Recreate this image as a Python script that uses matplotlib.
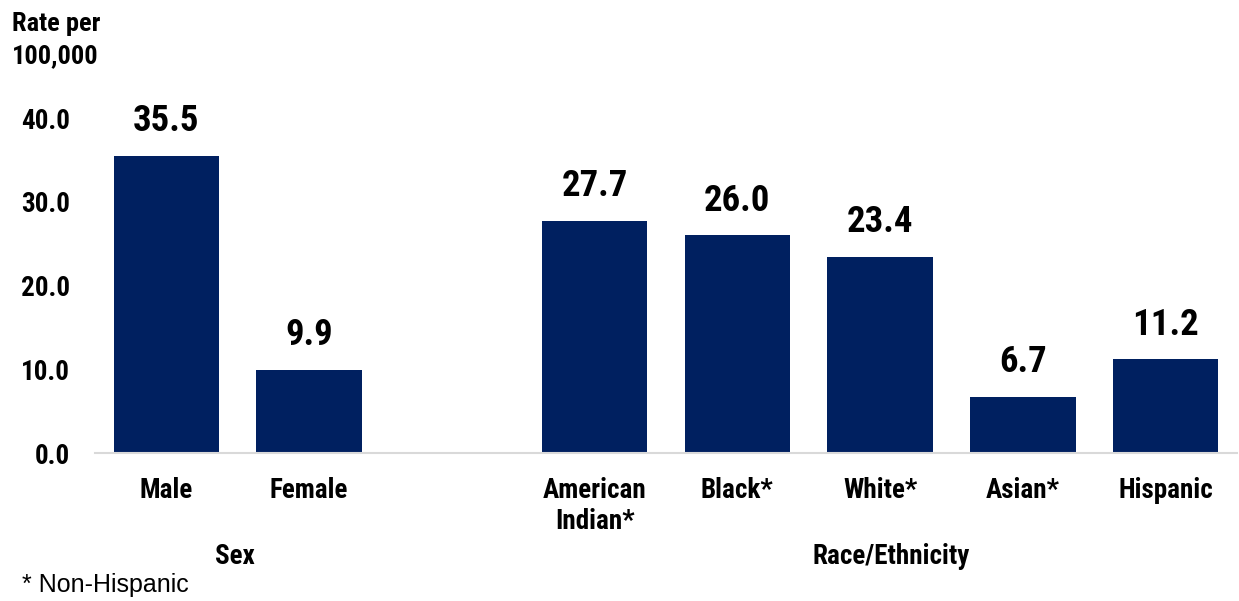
import matplotlib
matplotlib.use("Agg")
import matplotlib.pyplot as plt

# data
categories = ["Male", "Female", "", "American\nIndian*", "Black*", "White*", "Asian*", "Hispanic"]
rates = [35.5, 9.9, None, 27.7, 26.0, 23.4, 6.7, 11.2]
yticks = [0, 10, 20, 30, 40]
groups = ["Sex", "Race/Ethnicity"]

navy = "#002060"
plt.rcParams["font.family"] = ["Roboto Condensed", "DejaVu Sans"]
plt.rcParams["font.weight"] = "bold"

fig = plt.figure(figsize=(12.39, 6.01), dpi=100)
ax = fig.add_axes([95 / 1239, 1 - 453 / 601, 1 - 95 / 1239 - 2 / 1239, (453 - 118) / 601])

x_pos = [i for i, r in enumerate(rates) if r is not None]
vals = [r for r in rates if r is not None]
bars = ax.bar(x_pos, vals, width=0.74, color=navy)
for xp, v in zip(x_pos, vals):
    ax.annotate(f"{v:.1f}", (xp, v), xytext=(0, 12), textcoords="offset points",
                ha="center", va="bottom", fontsize=26.5, fontweight="bold")

ax.set_xlim(-0.5, 7.5)
ax.set_ylim(0, 40)
ax.set_yticks(yticks)
ax.set_yticklabels([f"{t:.1f}" for t in yticks], fontsize=19.5, fontweight="bold")
ax.set_xticks(range(len(categories)))
ax.set_xticklabels(categories, fontsize=19.5, fontweight="bold", linespacing=1.2, va="top")
ax.tick_params(axis="both", length=0)
ax.tick_params(axis="x", pad=17)
ax.tick_params(axis="y", pad=18)
for s in ["top", "right", "left"]:
    ax.spines[s].set_visible(False)
ax.spines["bottom"].set_color("#d9d9d9")
ax.spines["bottom"].set_linewidth(1.5)

fig.text(12 / 1239, 1 - 40 / 601, "Rate per\n100,000", fontsize=19, fontweight="bold",
         va="center", ha="left", linespacing=1.4)
ax.text(0.48, -0.31, groups[0], transform=ax.get_xaxis_transform(), ha="center", va="center",
        fontsize=19.5, fontweight="bold")
ax.text(5.08, -0.31, groups[1], transform=ax.get_xaxis_transform(), ha="center", va="center",
        fontsize=19.5, fontweight="bold")
fig.text(22 / 1239, 1 - 585 / 601, "* Non-Hispanic", fontsize=18, fontweight="normal",
         family=["Liberation Sans", "DejaVu Sans"], va="center", ha="left")

fig.savefig("out.png", dpi=100)
